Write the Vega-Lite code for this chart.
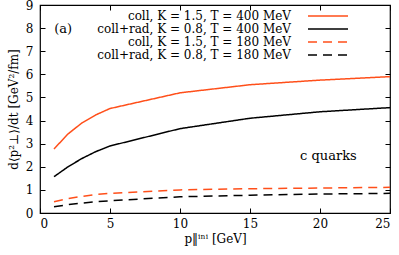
{
  "$schema": "https://vega.github.io/schema/vega-lite/v6.json",
  "width": 350,
  "height": 208,
  "autosize": {"type": "none"},
  "padding": {"left": 40, "top": 5, "right": 9, "bottom": 42},
  "config": {
    "font": "DejaVu Serif",
    "view": {"stroke": "black", "strokeWidth": 1.2},
    "axis": {"labelFont": "DejaVu Serif", "titleFont": "DejaVu Serif", "labelFontSize": 12, "titleFontSize": 12, "titleFontWeight": "normal", "labelColor": "black", "titleColor": "black", "domain": false, "grid": false, "tickColor": "black", "tickSize": -5, "tickWidth": 1},
    "legend": {"labelFont": "DejaVu Serif", "labelFontSize": 12, "labelColor": "black", "labelLimit": 400}
  },
  "datasets": {
    "curves": [
      {"p": 1, "v": 2.77, "s": "coll, K = 1.5, T = 400 MeV"},
      {"p": 2, "v": 3.42, "s": "coll, K = 1.5, T = 400 MeV"},
      {"p": 3, "v": 3.9, "s": "coll, K = 1.5, T = 400 MeV"},
      {"p": 4, "v": 4.25, "s": "coll, K = 1.5, T = 400 MeV"},
      {"p": 5, "v": 4.52, "s": "coll, K = 1.5, T = 400 MeV"},
      {"p": 10, "v": 5.2, "s": "coll, K = 1.5, T = 400 MeV"},
      {"p": 15, "v": 5.55, "s": "coll, K = 1.5, T = 400 MeV"},
      {"p": 20, "v": 5.75, "s": "coll, K = 1.5, T = 400 MeV"},
      {"p": 25, "v": 5.9, "s": "coll, K = 1.5, T = 400 MeV"},
      {"p": 1, "v": 1.57, "s": "coll+rad, K = 0.8, T = 400 MeV"},
      {"p": 2, "v": 2.0, "s": "coll+rad, K = 0.8, T = 400 MeV"},
      {"p": 3, "v": 2.36, "s": "coll+rad, K = 0.8, T = 400 MeV"},
      {"p": 4, "v": 2.66, "s": "coll+rad, K = 0.8, T = 400 MeV"},
      {"p": 5, "v": 2.9, "s": "coll+rad, K = 0.8, T = 400 MeV"},
      {"p": 10, "v": 3.65, "s": "coll+rad, K = 0.8, T = 400 MeV"},
      {"p": 15, "v": 4.1, "s": "coll+rad, K = 0.8, T = 400 MeV"},
      {"p": 20, "v": 4.38, "s": "coll+rad, K = 0.8, T = 400 MeV"},
      {"p": 25, "v": 4.56, "s": "coll+rad, K = 0.8, T = 400 MeV"},
      {"p": 1, "v": 0.49, "s": "coll, K = 1.5, T = 180 MeV"},
      {"p": 2, "v": 0.62, "s": "coll, K = 1.5, T = 180 MeV"},
      {"p": 3, "v": 0.72, "s": "coll, K = 1.5, T = 180 MeV"},
      {"p": 4, "v": 0.8, "s": "coll, K = 1.5, T = 180 MeV"},
      {"p": 5, "v": 0.85, "s": "coll, K = 1.5, T = 180 MeV"},
      {"p": 10, "v": 1.0, "s": "coll, K = 1.5, T = 180 MeV"},
      {"p": 15, "v": 1.05, "s": "coll, K = 1.5, T = 180 MeV"},
      {"p": 20, "v": 1.08, "s": "coll, K = 1.5, T = 180 MeV"},
      {"p": 25, "v": 1.11, "s": "coll, K = 1.5, T = 180 MeV"},
      {"p": 1, "v": 0.27, "s": "coll+rad, K = 0.8, T = 180 MeV"},
      {"p": 2, "v": 0.36, "s": "coll+rad, K = 0.8, T = 180 MeV"},
      {"p": 3, "v": 0.43, "s": "coll+rad, K = 0.8, T = 180 MeV"},
      {"p": 4, "v": 0.49, "s": "coll+rad, K = 0.8, T = 180 MeV"},
      {"p": 5, "v": 0.53, "s": "coll+rad, K = 0.8, T = 180 MeV"},
      {"p": 10, "v": 0.7, "s": "coll+rad, K = 0.8, T = 180 MeV"},
      {"p": 15, "v": 0.77, "s": "coll+rad, K = 0.8, T = 180 MeV"},
      {"p": 20, "v": 0.82, "s": "coll+rad, K = 0.8, T = 180 MeV"},
      {"p": 25, "v": 0.85, "s": "coll+rad, K = 0.8, T = 180 MeV"}
    ],
    "notes": [
      {"p": 1.65, "v": 7.95, "t": "(a)"},
      {"p": 20.6, "v": 2.47, "t": "c quarks"}
    ]
  },
  "layer": [
    {
      "data": {"name": "curves"},
      "mark": {"type": "line", "strokeWidth": 1.5, "clip": true},
      "encoding": {
        "x": {"field": "p", "type": "quantitative", "scale": {"domain": [0, 25], "nice": false, "zero": false},
              "axis": {"values": [0, 5, 10, 15, 20, 25], "title": "p‖ⁱⁿⁱ [GeV]", "labelPadding": 10, "titlePadding": 4}},
        "y": {"field": "v", "type": "quantitative", "scale": {"domain": [0, 9], "nice": false},
              "axis": {"values": [0, 1, 2, 3, 4, 5, 6, 7, 8, 9], "title": "d⟨p²⊥⟩/dt [GeV²/fm]", "labelPadding": 12, "titlePadding": 5}},
        "color": {"field": "s", "type": "nominal",
                  "scale": {"domain": ["coll, K = 1.5, T = 400 MeV", "coll+rad, K = 0.8, T = 400 MeV", "coll, K = 1.5, T = 180 MeV", "coll+rad, K = 0.8, T = 180 MeV"],
                            "range": ["#ff4f1a", "#000000", "#ff4f1a", "#000000"]},
                  "legend": {"title": null, "orient": "none", "legendX": 282, "legendY": 5, "padding": 0, "symbolType": "M-4,0H4", "symbolSize": 100, "symbolStrokeWidth": 1.5, "labelAlign": "right", "labelOffset": -43, "rowPadding": 1, "symbolOpacity": 1}},
        "strokeDash": {"field": "s", "type": "nominal",
                       "scale": {"domain": ["coll, K = 1.5, T = 400 MeV", "coll+rad, K = 0.8, T = 400 MeV", "coll, K = 1.5, T = 180 MeV", "coll+rad, K = 0.8, T = 180 MeV"],
                                 "range": [[1, 0], [1, 0], [9, 6], [9, 6]]},
                       "legend": null}
      }
    },
    {
      "data": {"name": "notes"},
      "mark": {"type": "text", "fontSize": 13, "font": "DejaVu Serif", "color": "black"},
      "encoding": {
        "x": {"field": "p", "type": "quantitative", "axis": {"orient": "top", "values": [0, 5, 10, 15, 20, 25], "labels": false, "title": null}},
        "y": {"field": "v", "type": "quantitative", "axis": {"orient": "right", "values": [0, 1, 2, 3, 4, 5, 6, 7, 8, 9], "labels": false, "title": null}},
        "text": {"field": "t"}
      }
    }
  ],
  "resolve": {"axis": {"x": "independent", "y": "independent"}}
}
